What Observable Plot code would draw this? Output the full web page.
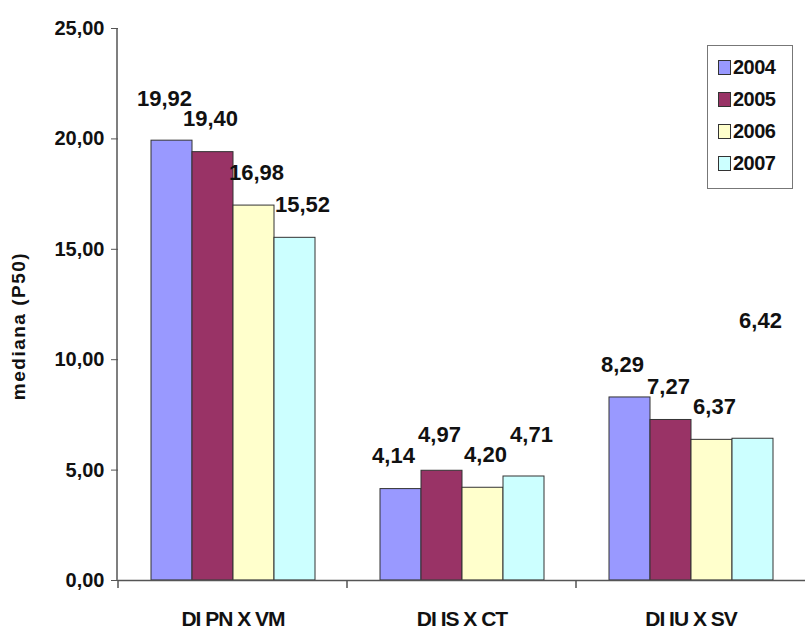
<!DOCTYPE html>
<html>
<head>
<meta charset="utf-8">
<script src="https://cdn.jsdelivr.net/npm/d3@7"></script>
<script src="https://cdn.jsdelivr.net/npm/@observablehq/plot@0.6"></script>
<style>
  html, body { margin: 0; padding: 0; background: #fff; }
  #wrap { position: relative; width: 806px; height: 636px; overflow: hidden; }
  #legend { position: absolute; left: 707px; top: 45px; width: 86px; height: 144px; border: 1px solid #777; box-sizing: border-box; background: #fff;
            font-family: "Liberation Sans", Arial, sans-serif; font-weight: bold; }
  #legend .item { position: absolute; left: 10px; display: flex; align-items: center; font-size: 20px; color: #111; letter-spacing: -0.5px; }
  #legend .sw { width: 11px; height: 13px; border: 1px solid #333; margin-right: 2px; }
</style>
</head>
<body>
<div id="wrap"></div>
<script>
const categories = ["DI PN X VM", "DI IS X CT", "DI IU X SV"];
const years = ["2004", "2005", "2006", "2007"];
const v2004 = [19.92, 4.14, 8.29];
const v2005 = [19.40, 4.97, 7.27];
const v2006 = [16.98, 4.20, 6.37];
const v2007 = [15.52, 4.71, 6.42];
const yTicks = [0, 5, 10, 15, 20, 25];
const colors = ["#9999ff", "#993366", "#ffffcc", "#ccffff"];

const W = 806, H = 636, ML = 117, MT = 28, MB = 56, MR = 0;
const yMax = 25;
const pxPerUnit = (H - MT - MB) / yMax;

const series = [v2004, v2005, v2006, v2007];
const rows = [];
categories.forEach((c, i) => {
  // label placement with simple collision avoidance (in pixels above bar top)
  const lift = series.map(() => 0);
  for (let j = 1; j < series.length; j++) {
    const a = series[j - 1][i], b = series[j][i];
    if (Math.abs(a - b) < 0.3) { lift[j] = 85; continue; }
    const ya = a * pxPerUnit + lift[j - 1], yb = b * pxPerUnit + lift[j];
    const diff = Math.abs(ya - yb);
    if (diff < 20) {
      if (ya >= yb) lift[j - 1] += 20 - diff; else lift[j] += 20 - diff;
    }
  }
  years.forEach((yr, j) => rows.push({cat: c, year: yr, idx: j, value: series[j][i], labelAt: series[j][i] + lift[j] / pxPerUnit}));
});

const fmt = d => d.toFixed(2).replace(".", ",");
const font = '"Liberation Sans", Arial, sans-serif';

const textMarks = years.map((yr, j) =>
  Plot.text(rows.filter(d => d.idx === j), {fx: "cat", x: "year", y: "labelAt", text: d => fmt(d.value), dy: -33, dx: (j - 1.5) * 5, fontSize: 22, fontWeight: "bold", fill: "#111"})
);

const chart = Plot.plot({
  width: W,
  height: H,
  marginLeft: ML,
  marginRight: MR,
  marginTop: MT,
  marginBottom: MB,
  style: {fontFamily: font, fontWeight: "bold", fontSize: "20px", color: "#111", background: "#fff"},
  fx: {domain: categories, padding: 0, label: null, axis: null},
  x: {domain: years, paddingInner: 0, paddingOuter: 0.78, axis: null},
  y: {domain: [0, yMax], axis: null},
  color: {domain: years, range: colors},
  marks: [
    Plot.axisY({ticks: yTicks, tickFormat: fmt, tickSize: 7, tickPadding: 7, label: null, facetAnchor: "left", stroke: "#555", fontSize: 20}),
    Plot.axisFx({anchor: "bottom", tickSize: 0, tickPadding: 31, label: null, fontSize: 21}),
    Plot.barY(rows, {fx: "cat", x: "year", y: "value", fill: "year", stroke: "#333", strokeWidth: 1}),
    Plot.ruleY([0], {stroke: "#555", strokeWidth: 1.5}),
    ...textMarks
  ]
});
const wrap = document.getElementById("wrap");
wrap.appendChild(chart);

// condense the category labels slightly (Arial Narrow look)
d3.select(chart).selectAll("[aria-label='fx-axis tick label'] text").style("letter-spacing", "-1px");

const ys = chart.scale("y");
const fxs = chart.scale("fx");
const svg = d3.select(chart);
const y0 = ys.apply(0);
// y axis line
svg.append("line")
  .attr("x1", ML).attr("x2", ML)
  .attr("y1", ys.apply(yMax)).attr("y2", y0)
  .attr("stroke", "#555").attr("stroke-width", 1.5);
// category boundary ticks
categories.forEach(c => {
  const x = fxs.apply(c);
  svg.append("line").attr("x1", x).attr("x2", x).attr("y1", y0).attr("y2", y0 + 8)
    .attr("stroke", "#555").attr("stroke-width", 1.5);
});
// y label
svg.append("text")
  .attr("transform", `translate(20, ${(ys.apply(yMax) + y0) / 2 + 22}) rotate(-90)`)
  .attr("text-anchor", "middle")
  .attr("dominant-baseline", "middle")
  .style("font-family", font)
  .style("font-weight", "bold")
  .style("font-size", "19px")
  .style("letter-spacing", "1.5px")
  .attr("fill", "#111")
  .text("mediana (P50)");

// legend
const legend = document.createElement("div");
legend.id = "legend";
years.forEach((yr, i) => {
  const it = document.createElement("div");
  it.className = "item";
  it.style.top = (10 + i * 32) + "px";
  const sw = document.createElement("div");
  sw.className = "sw";
  sw.style.background = colors[i];
  it.appendChild(sw);
  const t = document.createElement("span");
  t.textContent = yr;
  it.appendChild(t);
  legend.appendChild(it);
});
wrap.appendChild(legend);
</script>
</body>
</html>
